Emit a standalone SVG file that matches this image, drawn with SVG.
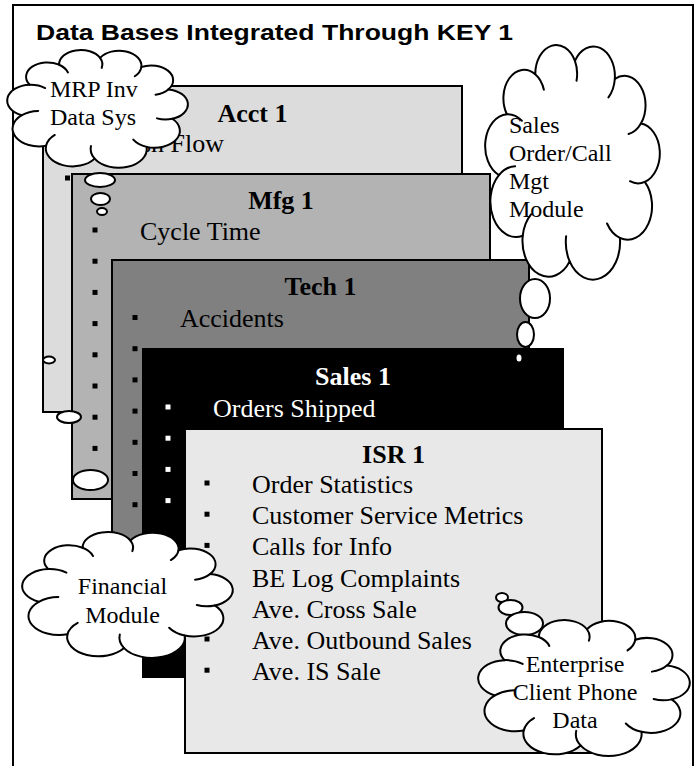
<svg xmlns="http://www.w3.org/2000/svg" width="699" height="766" viewBox="0 0 699 766">
  <style>
    .frame { fill: #ffffff; stroke: #000000; stroke-width: 2; }
    .title { font-family: "Liberation Sans", Arial, sans-serif; font-weight: bold; font-size: 22px; fill: #000000; }
    .box { stroke: #000000; stroke-width: 2; }
    .head { font-family: "Liberation Serif", "Times New Roman", serif; font-weight: bold; font-size: 26px; text-anchor: middle; }
    .item { font-family: "Liberation Serif", "Times New Roman", serif; font-size: 26px; }
    .note { font-family: "Liberation Serif", "Times New Roman", serif; font-size: 24px; fill: #000000; }
    .mid { text-anchor: middle; }
    .cloud { fill: #ffffff; stroke: #000000; stroke-width: 2; stroke-linejoin: round; }
    .crease { fill: none; stroke: #000000; stroke-width: 2; stroke-linecap: round; }
    .bubble { fill: #ffffff; stroke: #000000; stroke-width: 2; }
    .dark { fill: #000000; }
    .light { fill: #ffffff; }
  </style>
  <defs>
    <!-- ten-lobed cloud outline on a 100x100 local grid; strokes keep their width when scaled -->
    <path id="cloudShape" vector-effect="non-scaling-stroke" d="M8.4,55.7 A13,13 0 0 1 12.9,30.8 A11.7,11.7 0 0 1 29,14.5 A11.9,11.9 0 0 1 51.5,9 A12.2,12.2 0 0 1 74.1,16.4 A12,12 0 0 1 88.9,34.6 A12.3,12.3 0 0 1 91.1,58.5 A13.8,13.8 0 0 1 77,81.4 A15.4,15.4 0 0 1 48.5,91 A14.7,14.7 0 0 1 21.9,80.5 A14.5,14.5 0 0 1 8.4,55.7 Z"/>
    <!-- short inner creases continuing each lobe past its cusp -->
    <path id="cloudCreases" vector-effect="non-scaling-stroke" d="M12.9,30.8 A13,13 0 0 1 21.4,33.5 M29,14.5 A11.7,11.7 0 0 1 33.9,20.8 M51.5,9 A11.9,11.9 0 0 1 52.4,17.1 M74.1,16.4 A12.2,12.2 0 0 1 70.5,23.9 M88.9,34.6 A12,12 0 0 1 81.9,38.9 M91.1,58.5 A12.3,12.3 0 0 1 82.7,58.2 M77,81.4 A13.8,13.8 0 0 1 69.7,75.5 M48.5,91 A15.4,15.4 0 0 1 46.5,80.7 M21.9,80.5 A14.7,14.7 0 0 1 26.7,71.7 M8.4,55.7 A14.5,14.5 0 0 1 17.6,52.1"/>
  </defs>

  <rect class="frame" x="13" y="5" width="680" height="775"/>
  <text class="title" x="36" y="40" textLength="477" lengthAdjust="spacingAndGlyphs">Data Bases Integrated Through KEY 1</text>

  <g id="acct1">
    <rect class="box" x="43" y="86" width="419" height="326" fill="#dcdcdc"/>
    <text class="head" x="252.5" y="121.5" fill="#000000">Acct 1</text>
    <text class="item" x="112" y="151.7" fill="#000000">Cash Flow</text>
    <rect class="dark" x="65" y="175.5" width="5" height="5"/>
  </g>

  <g id="mfg1">
    <rect class="box" x="72" y="174" width="418" height="325" fill="#b3b3b3"/>
    <text class="head" x="281" y="209" fill="#000000">Mfg 1</text>
    <text class="item" x="140" y="240" fill="#000000">Cycle Time</text>
    <g class="dark">
      <rect x="92.5" y="227.5" width="5" height="5"/>
      <rect x="92.5" y="258.7" width="5" height="5"/>
      <rect x="92.5" y="289.9" width="5" height="5"/>
      <rect x="92.5" y="321.1" width="5" height="5"/>
      <rect x="92.5" y="352.3" width="5" height="5"/>
      <rect x="92.5" y="383.5" width="5" height="5"/>
      <rect x="92.5" y="414.7" width="5" height="5"/>
      <rect x="92.5" y="445.9" width="5" height="5"/>
    </g>
  </g>

  <g id="tech1">
    <rect class="box" x="112" y="260" width="417" height="345" fill="#808080"/>
    <text class="head" x="320.5" y="295" fill="#000000">Tech 1</text>
    <text class="item" x="180" y="327" fill="#000000">Accidents</text>
    <g class="dark">
      <rect x="132.5" y="315" width="5" height="5"/>
      <rect x="132.5" y="346.2" width="5" height="5"/>
      <rect x="132.5" y="377.4" width="5" height="5"/>
      <rect x="132.5" y="408.6" width="5" height="5"/>
      <rect x="132.5" y="439.8" width="5" height="5"/>
      <rect x="132.5" y="471" width="5" height="5"/>
      <rect x="132.5" y="502.2" width="5" height="5"/>
    </g>
  </g>

  <g id="sales1">
    <rect class="box" x="143" y="349" width="420" height="328" fill="#000000"/>
    <text class="head" x="353" y="385" fill="#ffffff">Sales 1</text>
    <text class="item" x="213" y="416.7" fill="#ffffff">Orders Shipped</text>
    <g class="light">
      <rect x="165.5" y="404.5" width="5" height="5"/>
      <rect x="165.5" y="435.7" width="5" height="5"/>
      <rect x="165.5" y="466.9" width="5" height="5"/>
      <rect x="165.5" y="498.1" width="5" height="5"/>
    </g>
  </g>

  <g id="isr1">
    <rect class="box" x="185" y="429" width="417" height="324" fill="#e8e8e8"/>
    <text class="head" x="393.5" y="463" fill="#000000">ISR 1</text>
    <g class="item" fill="#000000">
      <text x="252" y="493">Order Statistics</text>
      <text x="252" y="524.2">Customer Service Metrics</text>
      <text x="252" y="555.4">Calls for Info</text>
      <text x="252" y="586.6">BE Log Complaints</text>
      <text x="252" y="617.8">Ave. Cross Sale</text>
      <text x="252" y="649">Ave. Outbound Sales</text>
      <text x="252" y="680.2">Ave. IS Sale</text>
    </g>
    <g class="dark">
      <rect x="204.5" y="480.5" width="5" height="5"/>
      <rect x="204.5" y="511.7" width="5" height="5"/>
      <rect x="204.5" y="542.9" width="5" height="5"/>
      <rect x="204.5" y="574.1" width="5" height="5"/>
      <rect x="204.5" y="605.3" width="5" height="5"/>
      <rect x="204.5" y="636.5" width="5" height="5"/>
      <rect x="204.5" y="667.7" width="5" height="5"/>
    </g>
  </g>

  <g id="mrpCloud">
    <g transform="translate(6.1 46.9) scale(1.825 1.228)">
      <use href="#cloudShape" class="cloud"/>
      <use href="#cloudCreases" class="crease"/>
    </g>
    <text class="note" x="50" y="97">MRP Inv</text>
    <text class="note" x="50" y="125">Data Sys</text>
    <ellipse class="bubble" cx="100" cy="180" rx="15" ry="7"/>
    <ellipse class="bubble" cx="100.5" cy="199" rx="9.5" ry="6"/>
    <ellipse class="bubble" cx="102" cy="211.5" rx="5" ry="3.5"/>
  </g>

  <g id="salesCloud">
    <g transform="translate(484.1 38.9) scale(1.764 2.445)">
      <use href="#cloudShape" class="cloud"/>
      <use href="#cloudCreases" class="crease"/>
    </g>
    <text class="note" x="509" y="133">Sales</text>
    <text class="note" x="509" y="161">Order/Call</text>
    <text class="note" x="509" y="189">Mgt</text>
    <text class="note" x="509" y="217">Module</text>
    <ellipse class="bubble" cx="535" cy="298.5" rx="15" ry="19.5"/>
    <ellipse class="bubble" cx="525.5" cy="334.5" rx="8.5" ry="12.5"/>
    <ellipse class="bubble" cx="519" cy="358" rx="3.5" ry="4.5"/>
  </g>

  <g id="financialCloud">
    <ellipse class="bubble" cx="49" cy="360" rx="6" ry="3.5"/>
    <ellipse class="bubble" cx="69" cy="417" rx="12" ry="6"/>
    <ellipse class="bubble" cx="90.5" cy="480" rx="17.5" ry="10"/>
    <g transform="translate(20.9 528.7) scale(2.127 1.312)">
      <use href="#cloudShape" class="cloud"/>
      <use href="#cloudCreases" class="crease"/>
    </g>
    <text class="note mid" x="122.5" y="594">Financial</text>
    <text class="note mid" x="122.5" y="623">Module</text>
  </g>

  <g id="enterpriseCloud">
    <ellipse class="bubble" cx="502" cy="597.5" rx="6" ry="4.5"/>
    <ellipse class="bubble" cx="510.5" cy="607.5" rx="12" ry="7.5"/>
    <ellipse class="bubble" cx="524.5" cy="623.5" rx="18.5" ry="11.5"/>
    <g transform="translate(476.9 616.5) scale(2.137 1.417)">
      <use href="#cloudShape" class="cloud"/>
      <use href="#cloudCreases" class="crease"/>
    </g>
    <text class="note mid" x="575" y="672">Enterprise</text>
    <text class="note mid" x="575" y="700">Client Phone</text>
    <text class="note mid" x="575" y="728">Data</text>
  </g>
</svg>
